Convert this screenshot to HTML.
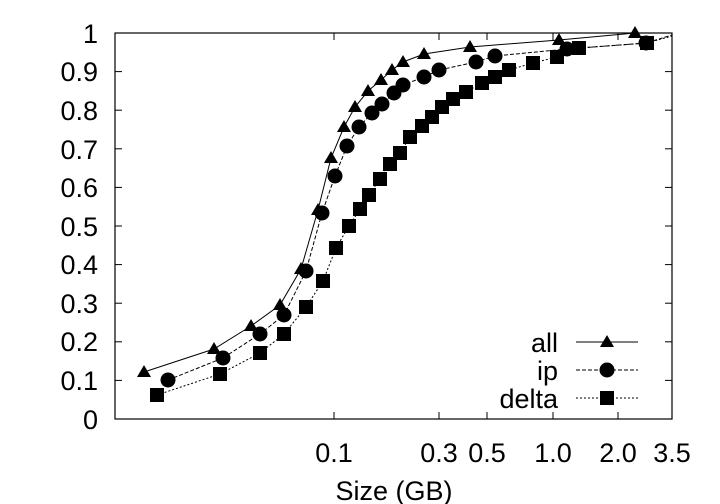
<!DOCTYPE html>
<html><head><style>
html,body{margin:0;padding:0;background:#fff;}
svg{display:block;}
text{font-family:"Liberation Sans",sans-serif;font-size:27px;fill:#000;}
</style></head><body>
<svg width="720" height="504" viewBox="0 0 720 504" xmlns="http://www.w3.org/2000/svg" font-family="Liberation Sans, sans-serif" font-size="27">
<defs>
<path id="tri" d="M0,-7 L7,5 L-7,5 Z"/>
<circle id="cir" r="7.5"/>
<rect id="sq" x="-7" y="-7" width="14" height="14"/>
</defs>
<rect x="115" y="33" width="557" height="386" fill="none" stroke="#000" stroke-width="1.2"/>
<g stroke="#000" stroke-width="1">
<line x1="115" y1="380.4" x2="122" y2="380.4"/><line x1="665" y1="380.4" x2="672" y2="380.4"/>
<line x1="115" y1="341.8" x2="122" y2="341.8"/><line x1="665" y1="341.8" x2="672" y2="341.8"/>
<line x1="115" y1="303.2" x2="122" y2="303.2"/><line x1="665" y1="303.2" x2="672" y2="303.2"/>
<line x1="115" y1="264.6" x2="122" y2="264.6"/><line x1="665" y1="264.6" x2="672" y2="264.6"/>
<line x1="115" y1="226" x2="122" y2="226"/><line x1="665" y1="226" x2="672" y2="226"/>
<line x1="115" y1="187.4" x2="122" y2="187.4"/><line x1="665" y1="187.4" x2="672" y2="187.4"/>
<line x1="115" y1="148.8" x2="122" y2="148.8"/><line x1="665" y1="148.8" x2="672" y2="148.8"/>
<line x1="115" y1="110.2" x2="122" y2="110.2"/><line x1="665" y1="110.2" x2="672" y2="110.2"/>
<line x1="115" y1="71.6" x2="122" y2="71.6"/><line x1="665" y1="71.6" x2="672" y2="71.6"/>
<line x1="334" y1="419" x2="334" y2="412"/><line x1="334" y1="33" x2="334" y2="40"/>
<line x1="439" y1="419" x2="439" y2="412"/><line x1="439" y1="33" x2="439" y2="40"/>
<line x1="487" y1="419" x2="487" y2="412"/><line x1="487" y1="33" x2="487" y2="40"/>
<line x1="553" y1="419" x2="553" y2="412"/><line x1="553" y1="33" x2="553" y2="40"/>
<line x1="618" y1="419" x2="618" y2="412"/><line x1="618" y1="33" x2="618" y2="40"/>
</g>
<g text-anchor="end">
<text x="98" y="429">0</text><text x="98" y="390">0.1</text><text x="98" y="351">0.2</text>
<text x="98" y="313">0.3</text><text x="98" y="274">0.4</text><text x="98" y="236">0.5</text>
<text x="98" y="197">0.6</text><text x="98" y="159">0.7</text><text x="98" y="120">0.8</text>
<text x="98" y="81">0.9</text><text x="98" y="43">1</text>
</g>
<g text-anchor="middle">
<text x="334" y="462">0.1</text><text x="439" y="462">0.3</text><text x="487" y="462">0.5</text>
<text x="553" y="462">1.0</text><text x="618" y="462">2.0</text><text x="672" y="462">3.5</text>
<text x="394" y="500">Size (GB)</text>
</g>
<polyline fill="none" stroke="#000" stroke-width="1" points="144,372 214,349 251,326 280,305 301,269 318,210 331,158 344,127 355,107 368,91 381,80 392,70 403,62 424,54 470,47 559,40 635,33 672,33"/>
<polyline fill="none" stroke="#000" stroke-width="1" stroke-dasharray="4,2" points="168,380 223,358 260,334 284,315 306,271 322,213 335,176 347,146 359,127 372,113 382,104 394,93 403,85 424,77 439,70 476,62 495,56 567,49 646,43 672,35"/>
<polyline fill="none" stroke="#000" stroke-width="1" stroke-dasharray="2,2" points="157,395 220,374 260,353 284,334 306,307 323,281 336,248 349,226 360,209 369,195 380,179 390,164 400,153 410,137 415,133 422,126 432,117 442,107 453,99 466,92 482,83 495,77 509,70 533,63 557,57 579,48 647,43 672,36"/>
<g>
<use href="#tri" x="144" y="372"/><use href="#tri" x="214" y="349"/><use href="#tri" x="251" y="326"/><use href="#tri" x="280" y="305"/><use href="#tri" x="301" y="269"/><use href="#tri" x="318" y="210"/><use href="#tri" x="331" y="158"/><use href="#tri" x="344" y="127"/><use href="#tri" x="355" y="107"/><use href="#tri" x="368" y="91"/><use href="#tri" x="381" y="80"/><use href="#tri" x="392" y="70"/><use href="#tri" x="403" y="62"/><use href="#tri" x="424" y="54"/><use href="#tri" x="470" y="47"/><use href="#tri" x="559" y="40"/><use href="#tri" x="635" y="33"/>
<use href="#cir" x="168" y="380"/><use href="#cir" x="223" y="358"/><use href="#cir" x="260" y="334"/><use href="#cir" x="284" y="315"/><use href="#cir" x="306" y="271"/><use href="#cir" x="322" y="213"/><use href="#cir" x="335" y="176"/><use href="#cir" x="347" y="146"/><use href="#cir" x="359" y="127"/><use href="#cir" x="372" y="113"/><use href="#cir" x="382" y="104"/><use href="#cir" x="394" y="93"/><use href="#cir" x="403" y="85"/><use href="#cir" x="424" y="77"/><use href="#cir" x="439" y="70"/><use href="#cir" x="476" y="62"/><use href="#cir" x="495" y="56"/><use href="#cir" x="567" y="49"/><use href="#cir" x="646" y="43"/>
<use href="#sq" x="157" y="395"/><use href="#sq" x="220" y="374"/><use href="#sq" x="260" y="353"/><use href="#sq" x="284" y="334"/><use href="#sq" x="306" y="307"/><use href="#sq" x="323" y="281"/><use href="#sq" x="336" y="248"/><use href="#sq" x="349" y="226"/><use href="#sq" x="360" y="209"/><use href="#sq" x="369" y="195"/><use href="#sq" x="380" y="179"/><use href="#sq" x="390" y="164"/><use href="#sq" x="400" y="153"/><use href="#sq" x="410" y="137"/><use href="#sq" x="422" y="126"/><use href="#sq" x="432" y="117"/><use href="#sq" x="442" y="107"/><use href="#sq" x="453" y="99"/><use href="#sq" x="466" y="92"/><use href="#sq" x="482" y="83"/><use href="#sq" x="495" y="77"/><use href="#sq" x="509" y="70"/><use href="#sq" x="533" y="63"/><use href="#sq" x="557" y="57"/><use href="#sq" x="579" y="48"/><use href="#sq" x="647" y="43"/>
</g>
<g text-anchor="end">
<text x="558" y="352">all</text><text x="558" y="380">ip</text><text x="558" y="408">delta</text>
</g>
<line x1="576" y1="342" x2="638" y2="342" stroke="#000" stroke-width="1"/>
<line x1="576" y1="370" x2="638" y2="370" stroke="#000" stroke-width="1" stroke-dasharray="4,2"/>
<line x1="576" y1="398" x2="638" y2="398" stroke="#000" stroke-width="1" stroke-dasharray="2,2"/>
<use href="#tri" x="607" y="342"/><use href="#cir" x="607" y="370"/><use href="#sq" x="607" y="398"/>
</svg>
</body></html>
